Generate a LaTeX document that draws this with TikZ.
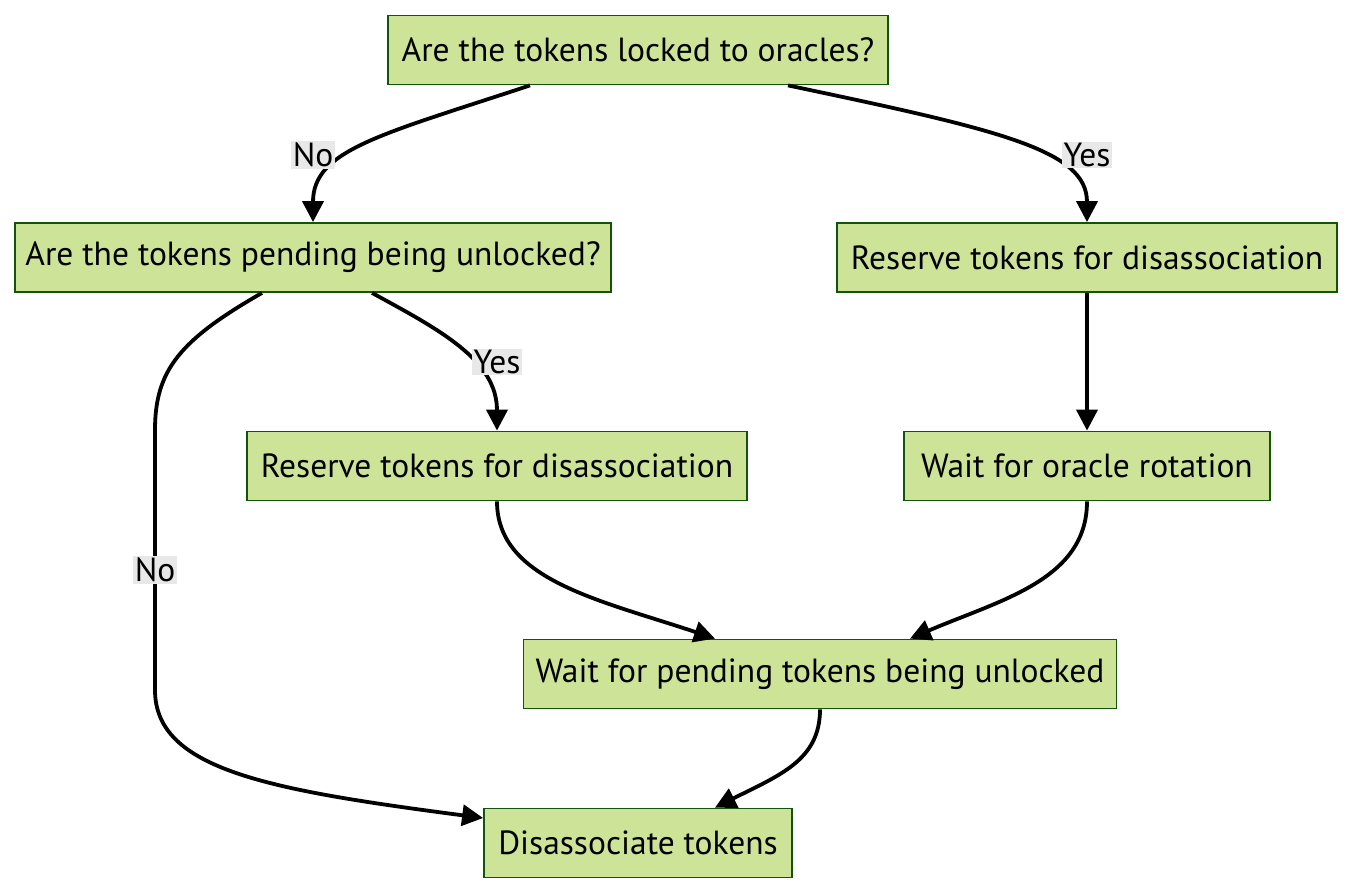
\documentclass[tikz,border=0pt]{standalone}
\usepackage{fontspec}
\setmainfont{PT Sans}
\usetikzlibrary{arrows.meta}
\definecolor{boxfill}{HTML}{CDE498}
\definecolor{boxline}{HTML}{13540C}
\definecolor{lblfill}{HTML}{E8E8E8}
\tikzset{
  x=1pt, y=1pt,
  box/.style={draw=boxline, fill=boxfill, line width=1.8pt, minimum height=69pt, inner sep=0pt, font=\fontsize{33.5}{37}\selectfont, text=black},
  edge/.style={line width=3.8pt, -{Triangle[length=21pt,width=21pt]}},
  lbl/.style={fill=lblfill, inner sep=1.5pt, font=\fontsize{33.5}{37}\selectfont, text=black}
}
\begin{document}
\begin{tikzpicture}
\useasboundingbox (0,0) rectangle (1354,-894);
\node[box, minimum width=500pt] (A) at (638,-50) {Are the tokens locked to oracles?};
\node[box, minimum width=596pt] (B) at (313,-257.5) {Are the tokens pending being unlocked?};
\node[box, minimum width=500pt] (C) at (1087,-257.5) {Reserve tokens for disassociation};
\node[box, minimum width=500pt] (D) at (497,-466) {Reserve tokens for disassociation};
\node[box, minimum width=366pt] (E) at (1087,-466) {Wait for oracle rotation};
\node[box, minimum width=593pt] (F) at (820,-674) {Wait for pending tokens being unlocked};
\node[box, minimum width=308pt] (G) at (638,-843) {Disassociate tokens};

\draw[edge] ([xshift=-108pt]A.south) .. controls (380,-135) and (313,-150) .. (B.north);
\draw[edge] ([xshift=150pt]A.south) .. controls (1000,-130) and (1087,-150) .. (C.north);
\draw[edge] ([xshift=59pt]B.south) .. controls (440,-330) and (497,-360) .. (D.north);
\draw[edge] ([xshift=-51pt]B.south) .. controls (180,-340) and (155,-370) .. (155,-430) -- (155,-690)
   .. controls (155,-770) and (270,-790) .. ([yshift=25pt]G.west);
\draw[edge] (C.south) -- (E.north);
\draw[edge] (D.south) .. controls (497,-580) and (600,-600) .. ([xshift=-105pt]F.north);
\draw[edge] (E.south) .. controls (1087,-580) and (1000,-600) .. ([xshift=90pt]F.north);
\draw[edge] (F.south) .. controls (820,-760) and (780,-775) .. ([xshift=77pt]G.north);

\node[lbl] (l1) at (313,-155) {No};
\node[lbl] (l2) at (1087,-155) {Yes};
\node[lbl] (l3) at (497,-362) {Yes};
\node[lbl] (l4) at (155,-570) {No};
\end{tikzpicture}
\end{document}
